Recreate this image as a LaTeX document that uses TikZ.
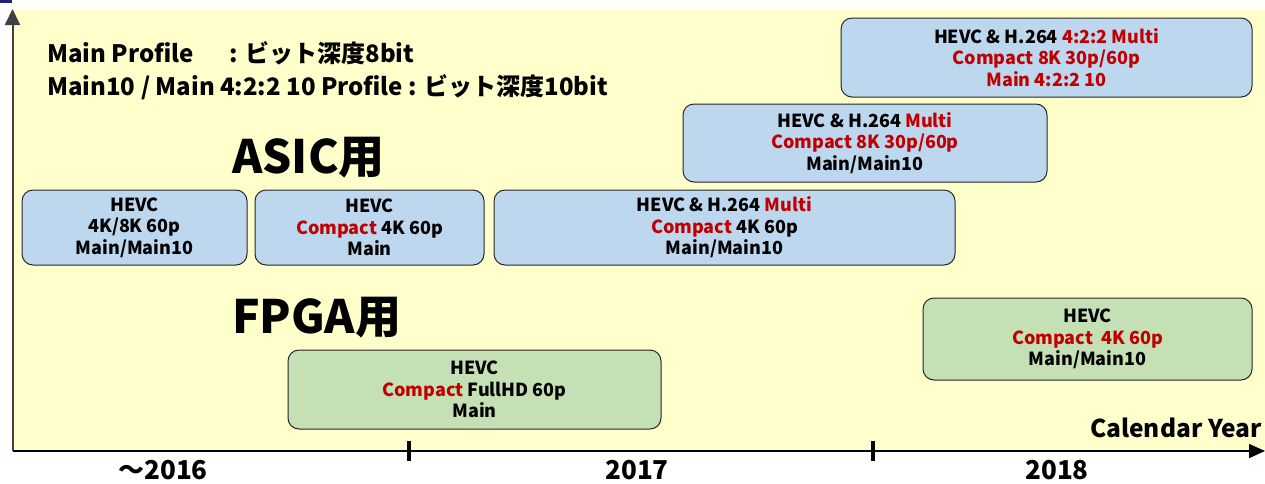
\documentclass[tikz,border=0pt]{standalone}
\usepackage{fontspec}
\setmainfont{Noto Sans CJK JP}
\usepackage{xcolor}
\usetikzlibrary{arrows.meta, positioning}
\definecolor{bgcolor}{RGB}{255, 255, 204}
\definecolor{asiccolor}{RGB}{189, 215, 238}
\definecolor{fpgacolor}{RGB}{197, 224, 180}
\definecolor{hicolor}{RGB}{192, 0, 0}
\definecolor{edgecolor}{RGB}{38, 38, 38}
\definecolor{barcolor}{RGB}{32, 32, 128}
\definecolor{axiscolor}{RGB}{64, 64, 64}
\newcommand{\redtxt}[1]{\textcolor{hicolor}{#1}}
\tikzset{
    specbox/.style={draw=edgecolor, line width=1pt, rounded corners=11pt, align=center, inner sep=0pt, font=\fontsize{18}{21.5}\selectfont\bfseries},
    asicbox/.style={specbox, fill=asiccolor},
    fpgabox/.style={specbox, fill=fpgacolor},
    notelabel/.style={anchor=west, inner sep=0pt, font=\fontsize{24}{26}\selectfont\bfseries},
    grouplabel/.style={anchor=west, inner sep=0pt, font=\fontsize{46}{50}\selectfont\bfseries},
    yearlabel/.style={inner sep=0pt, font=\fontsize{26}{30}\selectfont\bfseries}
}

\begin{document}
\begin{tikzpicture}[x=1pt, y=-1pt]
    \useasboundingbox (0, 0) rectangle (1265, 483);
    % Background
    \fill[white] (0, 0) rectangle (1265, 483);
    \fill[bgcolor] (13, 10) rectangle (1265, 451);
    \fill[barcolor] (0, 0) rectangle (12, 3);

    % Axes
    \coordinate (origin) at (12.5, 451);
    \coordinate (ytop) at (12.5, 9);
    \coordinate (xend) at (1265, 451);
    \draw[axiscolor, line width=2pt, -{Triangle[length=16pt, width=15pt]}] (origin) -- (ytop);
    \draw[black, line width=1.5pt, -{Triangle[length=16pt, width=14pt]}] (origin) -- (xend);
    \draw[line width=3.5pt] (409, 441) -- (409, 461);
    \draw[line width=3.5pt] (873, 441) -- (873, 461);

    % Year labels
    \node[yearlabel] (y2016) at (163, 470) {～2016};
    \node[yearlabel] (y2017) at (637, 470) {2017};
    \node[yearlabel] (y2018) at (1057, 470) {2018};
    \node[yearlabel, anchor=east, font=\fontsize{24.5}{28}\selectfont\bfseries] (calyear) at (1262, 428) {Calendar Year};

    % Profile notes
    \node[notelabel] (note1) at (47, 53) {Main Profile\hspace{1.5em}: ビット深度8bit};
    \node[notelabel] (note2) at (47, 87) {Main10 / Main 4:2:2 10 Profile : ビット深度10bit};

    % Group labels
    \node[grouplabel] (asiclabel) at (232, 158) {ASIC用};
    \node[grouplabel] (fpgalabel) at (232, 318) {FPGA用};

    % ASIC cores
    \node[asicbox, minimum width=225pt, minimum height=75pt] (asic4k8k) at (134.5, 227.5) {HEVC\\4K/8K 60p\\Main/Main10};
    \node[asicbox, minimum width=229pt, minimum height=75pt] (asiccompact) at (369.5, 227.5) {HEVC\\\redtxt{Compact} 4K 60p\\Main};
    \node[asicbox, minimum width=461pt, minimum height=75pt] (asicmulti4k) at (724.5, 227.5) {HEVC \& H.264 \redtxt{Multi}\\\redtxt{Compact} 4K 60p\\Main/Main10};
    \node[asicbox, minimum width=364pt, minimum height=78pt] (asicmulti8k) at (865, 143) {HEVC \& H.264 \redtxt{Multi}\\\redtxt{Compact 8K 30p/60p}\\Main/Main10};
    \node[asicbox, minimum width=411pt, minimum height=79pt] (asicmulti422) at (1046.5, 57.5) {HEVC \& H.264 \redtxt{4:2:2 Multi}\\\redtxt{Compact 8K 30p/60p}\\\redtxt{Main 4:2:2 10}};

    % FPGA cores
    \node[fpgabox, minimum width=373pt, minimum height=79pt] (fpgahd) at (474.5, 389.5) {HEVC\\\redtxt{Compact} FullHD 60p\\Main};
    \node[fpgabox, minimum width=329pt, minimum height=82pt] (fpga4k) at (1087.5, 339) {HEVC\\\redtxt{Compact\ \ 4K 60p}\\Main/Main10};
\end{tikzpicture}
\end{document}
